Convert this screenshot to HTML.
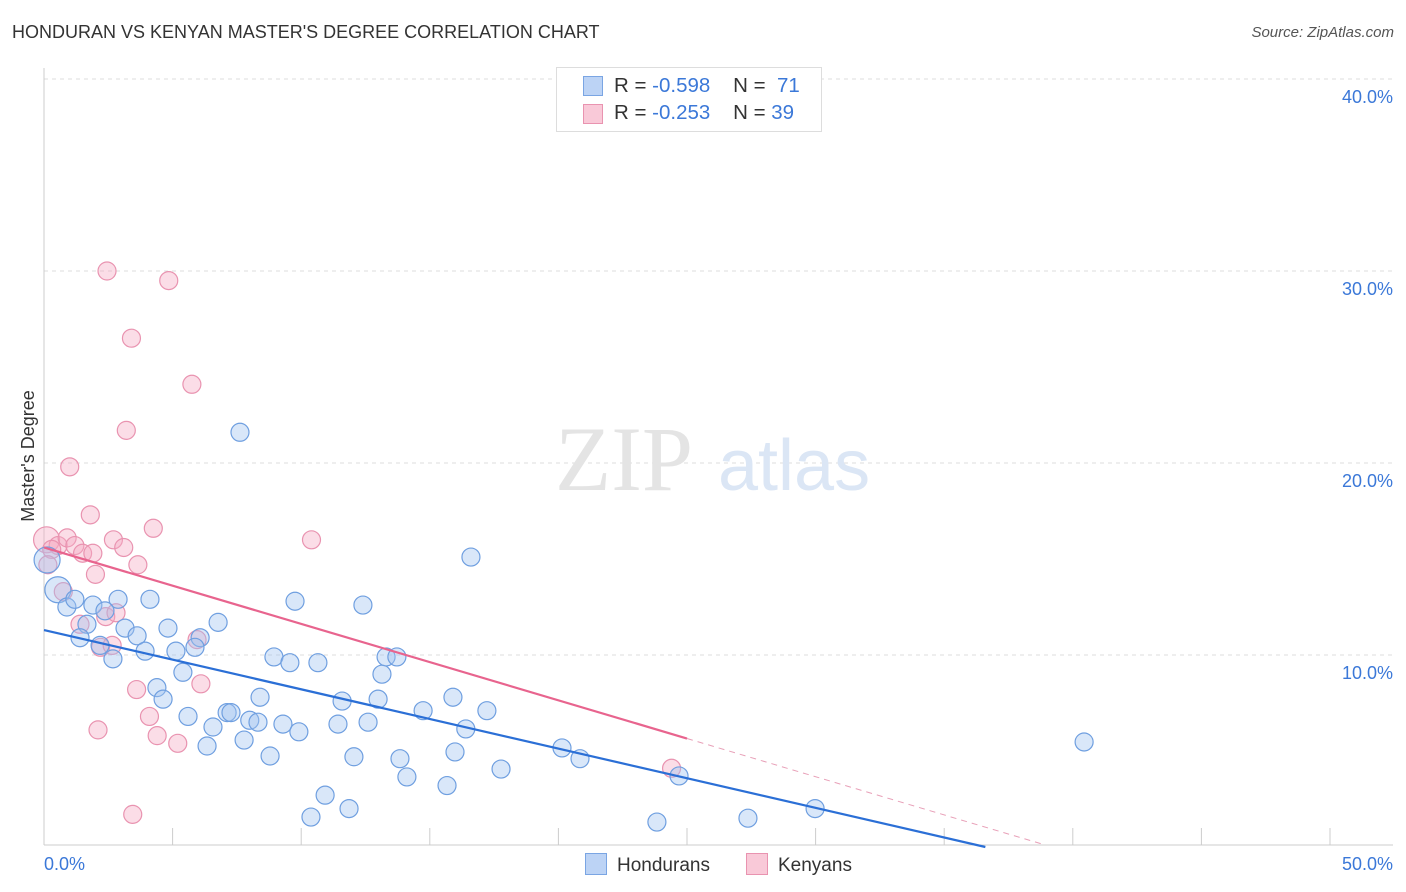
<!DOCTYPE html>
<html><head><meta charset="utf-8"><style>
body{margin:0;background:#fff;font-family:"Liberation Sans",sans-serif;}
#wrap{position:relative;width:1406px;height:892px;overflow:hidden}
.t{position:absolute;white-space:nowrap}
</style></head><body><div id="wrap">
<div class="t" style="left:12px;top:22px;font-size:18px;color:#333">HONDURAN VS KENYAN MASTER'S DEGREE CORRELATION CHART</div>
<div class="t" style="right:12px;top:24px;font-size:15px;color:#555;font-style:italic">Source: ZipAtlas.com</div>
<svg id="svg" width="1406" height="892" style="position:absolute;left:0;top:0"></svg>
</div>
<script>
const yTicks=[10,20,30,40];
const yTickLabels=["10.0%","20.0%","30.0%","40.0%"];
const xTickLabels=["0.0%","50.0%"];
const hondX=[7.62,16.6,0.54,0.89,1.2,1.9,2.88,4.12,2.37,1.67,3.15,3.62,1.4,2.18,2.68,3.93,4.82,6.07,6.77,5.87,5.13,5.4,4.39,4.63,5.6,6.57,6.34,7.12,7.27,7.78,8.0,8.4,8.32,8.79,9.29,8.94,9.56,9.76,9.91,10.65,10.38,10.93,11.43,11.59,11.86,12.05,12.4,12.6,12.99,13.14,13.3,13.72,13.84,14.11,14.74,15.67,15.9,15.98,16.4,17.22,17.77,20.14,20.84,24.69,23.83,27.37,29.98,40.44,0.12];
const hondY=[21.6,15.1,13.4,12.5,12.9,12.6,12.9,12.9,12.3,11.6,11.4,11.0,10.9,10.5,9.8,10.2,11.4,10.9,11.7,10.4,10.2,9.1,8.3,7.7,6.8,6.25,5.26,7.0,7.0,5.57,6.6,7.8,6.5,4.74,6.4,9.9,9.6,12.8,6.0,9.6,1.56,2.7,6.4,7.6,2.0,4.7,12.6,6.5,7.7,9.0,9.9,9.9,4.6,3.65,7.1,3.2,7.8,4.95,6.15,7.1,4.06,5.16,4.6,3.7,1.3,1.5,2.0,5.47,14.95];
const kenX=[2.45,4.85,3.4,5.75,3.2,1.0,1.8,4.25,10.4,0.1,0.55,0.9,1.2,0.3,1.5,1.9,2.7,3.1,3.65,2.0,0.75,1.4,2.4,2.8,2.2,2.65,5.95,3.6,6.1,4.1,2.1,4.4,5.2,3.45,24.4,0.15];
const kenY=[30.0,29.5,26.5,24.1,21.7,19.8,17.3,16.6,16.0,16.0,15.7,16.1,15.7,15.5,15.3,15.3,16.0,15.6,14.7,14.2,13.3,11.6,12.0,12.2,10.4,10.5,10.8,8.2,8.5,6.8,6.1,5.8,5.4,1.7,4.1,14.7];
const hondFit=[11.3,0.0], hondFitEnd=36.6;
const kenFit=[15.6,5.65], kenFitSolidEnd=25.0, kenFitEnd=38.9;
const X0=44,X1=1330,Y0=847,Y1=79;
const xs=v=>X0+(X1-X0)*v/50, ys=v=>Y0-(Y0-Y1)*v/40;
const svg=document.getElementById('svg'),NS='http://www.w3.org/2000/svg';
function mk(tag,at,parent){const e=document.createElementNS(NS,tag);for(const k in at)e.setAttribute(k,at[k]);(parent||svg).appendChild(e);return e;}
yTicks.forEach((v,i)=>{
 const g=mk('line',{x1:X0,x2:1393,y1:ys(v),y2:ys(v),stroke:'#ddd','stroke-dasharray':'4,4'});
 
 
 const t=mk('text',{x:1393,y:ys(v)+24,'text-anchor':'end','font-size':18,fill:'#3b78d8'});t.textContent=yTickLabels[i];
 
 
});
let ax=mk('line',{x1:X0,x2:1393,y1:845,y2:845,stroke:'#ccc'});


let ay=mk('line',{x1:X0,x2:X0,y1:68,y2:845,stroke:'#ccc'});


for(let i=0;i<=10;i++){const tk=mk('line',{x1:xs(i*5),x2:xs(i*5),y1:828,y2:845,stroke:'#ccc'});
 
 }
[[0,'start',44],[1,'end',1393]].forEach(([i,a,x])=>{const t=mk('text',{x:x,y:870,'text-anchor':a,'font-size':18,fill:'#3b78d8'});t.textContent=xTickLabels[i];
 
 });
let wm=mk('text',{x:555,y:490,'font-size':92,fill:'#e4e4e4','font-family':'Liberation Serif'});wm.textContent='ZIP';


let wm2=mk('text',{x:718,y:490,'font-size':72,fill:'#dbe6f5'});wm2.textContent='atlas';


let yl=mk('text',{x:34,y:456,'font-size':18,fill:'#333','text-anchor':'middle',transform:'rotate(-90 34 456)'});yl.textContent="Master's Degree";


kenX.forEach((x,i)=>{const c=mk('circle',{cx:xs(x),cy:ys(kenY[i]),r:i==9?13:9,fill:'rgba(245,170,195,0.4)',stroke:'#e993b0','stroke-width':1.2});
 
 });
hondX.forEach((x,i)=>{const c=mk('circle',{cx:xs(x),cy:ys(hondY[i]),r:(i==2||i==68)?13:9,fill:'rgba(160,195,240,0.4)',stroke:'#6f9fe0','stroke-width':1.2});
 
 });
let l1=mk('line',{x1:xs(0),y1:ys(hondFit[0]),x2:xs(hondFitEnd),y2:ys(hondFit[1]),stroke:'#2b6fd6','stroke-width':2.2});


let l2=mk('line',{x1:xs(0),y1:ys(kenFit[0]),x2:xs(kenFitSolidEnd),y2:ys(kenFit[1]),stroke:'#e8648e','stroke-width':2.2});


const slope=(kenFit[1]-kenFit[0])/kenFitSolidEnd;
let l3=mk('line',{x1:xs(kenFitSolidEnd),y1:ys(kenFit[1]),x2:xs(kenFitEnd),y2:ys(kenFit[0]+slope*kenFitEnd),stroke:'#e8a0b8','stroke-width':1,'stroke-dasharray':'6,5'});


</script>
<div class="t" style="left:556px;top:67px;width:264px;height:63px;border:1px solid #ddd;background:#fff;font-size:20.5px;color:#333">
<div style="position:absolute;left:26px;top:8px;width:18px;height:18px;background:#bcd3f5;border:1px solid #7aa5e3"></div>
<div class="t" style="left:57px;top:6px">R = <span style="color:#3b78d8">-0.598</span>&nbsp;&nbsp;&nbsp; N = &nbsp;<span style="color:#3b78d8">71</span></div>
<div style="position:absolute;left:26px;top:36px;width:18px;height:18px;background:#f9c9d8;border:1px solid #e993b0"></div>
<div class="t" style="left:57px;top:33px">R = <span style="color:#3b78d8">-0.253</span>&nbsp;&nbsp;&nbsp; N = <span style="color:#3b78d8">39</span></div>
</div>
<div class="t" style="left:585px;top:853px;font-size:19px;color:#333"><span style="display:inline-block;width:20px;height:20px;background:#bcd3f5;border:1px solid #7aa5e3;vertical-align:-4px;margin-right:10px"></span>Hondurans</div>
<div class="t" style="left:746px;top:853px;font-size:19px;color:#333"><span style="display:inline-block;width:20px;height:20px;background:#f9c9d8;border:1px solid #e993b0;vertical-align:-4px;margin-right:10px"></span>Kenyans</div>
</body></html>
